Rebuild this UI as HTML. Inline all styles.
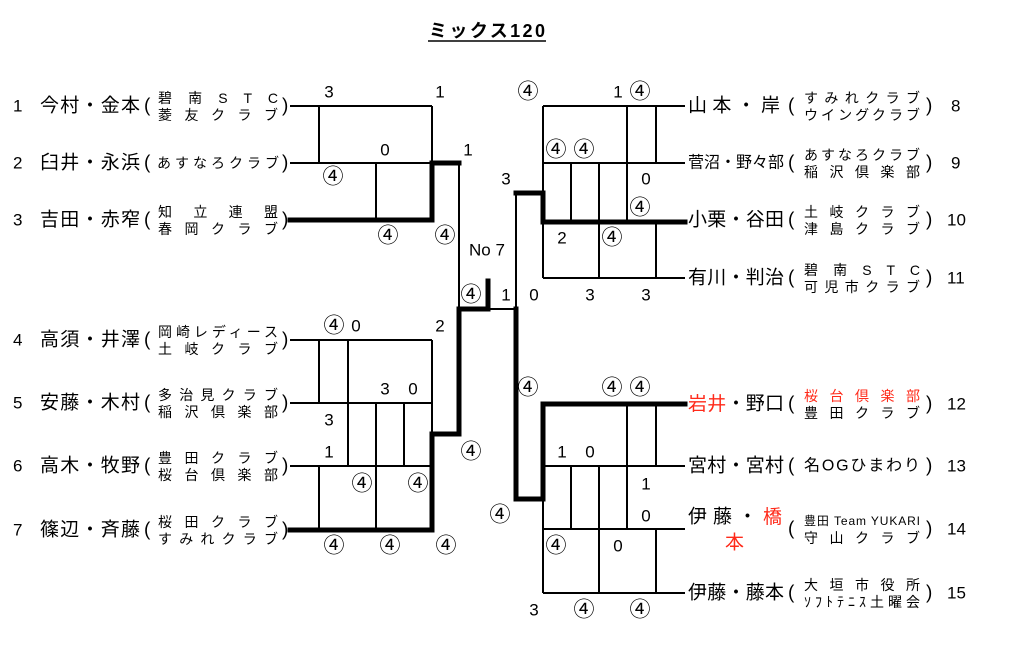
<!DOCTYPE html>
<html><head><meta charset="utf-8"><style>
html,body{margin:0;padding:0;background:#fff;}
svg{display:block;font-family:"Liberation Sans","Noto Sans CJK JP",sans-serif;}
.c{font-size:21px;}
</style></head><body>
<svg width="1024" height="645" viewBox="0 0 1024 645" xmlns="http://www.w3.org/2000/svg">
<rect width="1024" height="645" fill="#fff"/>
<text x="429" y="37" font-size="18" font-weight="bold" textLength="116">ミックス120</text>
<line x1="428" y1="41" x2="546" y2="41" stroke="#000" stroke-width="1.5"/>
<g stroke="#000" stroke-width="2" fill="none">
<line x1="290" y1="106" x2="432" y2="106"/>
<line x1="290" y1="163" x2="432" y2="163"/>
<line x1="319" y1="106" x2="319" y2="163"/>
<line x1="432" y1="106" x2="432" y2="163"/>
<line x1="376" y1="163" x2="376" y2="220"/>
<line x1="459" y1="163" x2="459" y2="309"/>
<line x1="290" y1="340" x2="432" y2="340"/>
<line x1="290" y1="403" x2="432" y2="403"/>
<line x1="290" y1="466" x2="432" y2="466"/>
<line x1="319" y1="340" x2="319" y2="403"/>
<line x1="348" y1="340" x2="348" y2="466"/>
<line x1="376" y1="403" x2="376" y2="530"/>
<line x1="404" y1="403" x2="404" y2="466"/>
<line x1="319" y1="466" x2="319" y2="530"/>
<line x1="432" y1="340" x2="432" y2="434"/>
<line x1="488" y1="309" x2="516" y2="309"/>
<line x1="516" y1="193" x2="516" y2="309"/>
<line x1="543" y1="106" x2="685" y2="106"/>
<line x1="543" y1="163" x2="685" y2="163"/>
<line x1="543" y1="278" x2="685" y2="278"/>
<line x1="543" y1="106" x2="543" y2="193"/>
<line x1="543" y1="222" x2="543" y2="278"/>
<line x1="627" y1="106" x2="627" y2="222"/>
<line x1="656" y1="106" x2="656" y2="163"/>
<line x1="571" y1="163" x2="571" y2="222"/>
<line x1="599" y1="163" x2="599" y2="278"/>
<line x1="656" y1="222" x2="656" y2="278"/>
<line x1="543" y1="466" x2="685" y2="466"/>
<line x1="543" y1="529" x2="685" y2="529"/>
<line x1="543" y1="593" x2="685" y2="593"/>
<line x1="543" y1="499" x2="543" y2="593"/>
<line x1="627" y1="404" x2="627" y2="529"/>
<line x1="656" y1="404" x2="656" y2="466"/>
<line x1="571" y1="466" x2="571" y2="529"/>
<line x1="599" y1="466" x2="599" y2="593"/>
<line x1="656" y1="529" x2="656" y2="593"/>
</g>
<g stroke="#000" stroke-width="5" fill="none" stroke-linecap="square">
<polyline points="290,220 432,220 432,163 459,163"/>
<polyline points="290,530 432,530 432,434 459,434 459,309 488,309 488,281"/>
<polyline points="516,309 516,499 543,499 543,404 685,404"/>
<polyline points="516,193 543,193 543,222 685,222"/>
</g>
<g font-size="17" text-anchor="middle" dominant-baseline="central">
<text x="329" y="92">3</text><text x="440" y="92">1</text><text x="385" y="150">0</text>
<text class="c" x="333" y="177">④</text><text x="468" y="150">1</text><text class="c" x="388" y="236">④</text>
<text class="c" x="445" y="236">④</text><text x="487" y="250">No 7</text><text class="c" x="471" y="295">④</text>
<text x="506" y="295">1</text><text x="534" y="295">0</text>
<text class="c" x="528" y="92">④</text><text x="618" y="92">1</text><text class="c" x="640" y="92">④</text>
<text class="c" x="556" y="150">④</text><text class="c" x="584" y="150">④</text><text x="506" y="179">3</text>
<text x="646" y="179">0</text><text class="c" x="640" y="208">④</text><text x="562" y="238">2</text>
<text class="c" x="612" y="238">④</text><text x="590" y="295">3</text><text x="646" y="295">3</text>
<text class="c" x="334" y="326">④</text><text x="356" y="326">0</text><text x="440" y="326">2</text>
<text x="385" y="389">3</text><text x="413" y="389">0</text><text x="329" y="420">3</text>
<text x="329" y="452">1</text><text class="c" x="362" y="484">④</text><text class="c" x="418" y="484">④</text>
<text class="c" x="471" y="452">④</text><text class="c" x="334" y="546">④</text><text class="c" x="390" y="546">④</text>
<text class="c" x="446" y="546">④</text>
<text class="c" x="528" y="388">④</text><text class="c" x="612" y="388">④</text><text class="c" x="640" y="388">④</text>
<text x="562" y="452">1</text><text x="590" y="452">0</text><text x="646" y="484">1</text>
<text x="646" y="516">0</text><text class="c" x="500" y="515">④</text><text class="c" x="556" y="546">④</text>
<text x="618" y="546">0</text><text x="534" y="610">3</text><text class="c" x="584" y="610">④</text>
<text class="c" x="640" y="610">④</text>
</g>
<g dominant-baseline="central">
<g font-size="17"><text x="13" y="106">1</text><text x="13" y="163">2</text><text x="13" y="220">3</text><text x="13" y="340">4</text><text x="13" y="403">5</text><text x="13" y="466">6</text><text x="13" y="530">7</text></g>
<g font-size="19">
<text x="40" y="106" textLength="100">今村・金本</text>
<text x="40" y="163" textLength="100">臼井・永浜</text>
<text x="40" y="220" textLength="100">吉田・赤窄</text>
<text x="40" y="340" textLength="100">高須・井澤</text>
<text x="40" y="403" textLength="100">安藤・木村</text>
<text x="40" y="466" textLength="100">高木・牧野</text>
<text x="40" y="530" textLength="100">篠辺・斉藤</text>
</g>
<g font-size="19">
<text x="144" y="106">(</text><text x="282" y="106">)</text>
<text x="144" y="163">(</text><text x="282" y="163">)</text>
<text x="144" y="220">(</text><text x="282" y="220">)</text>
<text x="144" y="340">(</text><text x="282" y="340">)</text>
<text x="144" y="403">(</text><text x="282" y="403">)</text>
<text x="144" y="466">(</text><text x="282" y="466">)</text>
<text x="144" y="530">(</text><text x="282" y="530">)</text>
</g>
<g font-size="14">
<text x="158" y="98" textLength="120">碧 南 S T C</text><text x="158" y="115" textLength="120">菱 友 ク ラ ブ</text>
<text x="157" y="163" textLength="122">あすなろクラブ</text>
<text x="158" y="212" textLength="120">知 立 連 盟</text><text x="158" y="229" textLength="120">春 岡 ク ラ ブ</text>
<text x="158" y="332" textLength="120">岡崎レディース</text><text x="158" y="349" textLength="120">土 岐 ク ラ ブ</text>
<text x="158" y="395" textLength="120">多 治 見 ク ラ ブ</text><text x="158" y="412" textLength="120">稲 沢 倶 楽 部</text>
<text x="158" y="458" textLength="120">豊 田 ク ラ ブ</text><text x="158" y="475" textLength="120">桜 台 倶 楽 部</text>
<text x="158" y="522" textLength="120">桜 田 ク ラ ブ</text><text x="158" y="539" textLength="120">す み れ ク ラ ブ</text>
</g>
</g>
<g dominant-baseline="central">
<g font-size="19">
<text x="688" y="106" textLength="92">山 本 ・ 岸</text>
<text x="688" y="163" textLength="96" font-size="16">菅沼・野々部</text>
<text x="688" y="220" textLength="96">小栗・谷田</text>
<text x="688" y="278" textLength="96">有川・判治</text>
<text x="688" y="404" textLength="96"><tspan fill="#ff2a1a">岩井</tspan>・野口</text>
<text x="688" y="466" textLength="96">宮村・宮村</text>
<text x="688" y="517" textLength="94">伊 藤 ・ <tspan fill="#ff2a1a">橋</tspan></text>
<text x="725" y="543" fill="#ff2a1a">本</text>
<text x="688" y="593" textLength="96">伊藤・藤本</text>
</g>
<g font-size="19">
<text x="788" y="106">(</text><text x="926" y="106">)</text>
<text x="788" y="163">(</text><text x="926" y="163">)</text>
<text x="788" y="220">(</text><text x="926" y="220">)</text>
<text x="788" y="278">(</text><text x="926" y="278">)</text>
<text x="788" y="404">(</text><text x="926" y="404">)</text>
<text x="788" y="466">(</text><text x="926" y="466">)</text>
<text x="788" y="529">(</text><text x="926" y="529">)</text>
<text x="788" y="593">(</text><text x="926" y="593">)</text>
</g>
<g font-size="14">
<text x="804" y="98" textLength="116">すみれクラブ</text><text x="804" y="115" textLength="116">ウイングクラブ</text>
<text x="804" y="155" textLength="116">あすなろクラブ</text><text x="804" y="172" textLength="116">稲 沢 倶 楽 部</text>
<text x="804" y="212" textLength="116">土 岐 ク ラ ブ</text><text x="804" y="229" textLength="116">津 島 ク ラ ブ</text>
<text x="804" y="270" textLength="116">碧 南 S T C</text><text x="804" y="287" textLength="116">可 児 市 ク ラ ブ</text>
<text x="804" y="396" textLength="116" fill="#ff2a1a">桜 台 倶 楽 部</text><text x="804" y="413" textLength="116">豊 田 ク ラ ブ</text>
<text x="804" y="466" textLength="116" font-size="16">名OGひまわり</text>
<text x="804" y="521" textLength="116" font-size="12">豊田 Team YUKARI</text><text x="804" y="538" textLength="116">守 山 ク ラ ブ</text>
<text x="804" y="585" textLength="116">大 垣 市 役 所</text><text x="804" y="602" textLength="116">ｿﾌﾄﾃﾆｽ土曜会</text>
</g>
<g font-size="17">
<text x="951" y="106">8</text><text x="951" y="163">9</text><text x="947" y="220">10</text><text x="947" y="278">11</text>
<text x="947" y="404">12</text><text x="947" y="466">13</text><text x="947" y="529">14</text><text x="947" y="593">15</text>
</g>
</g>
</svg>
</body></html>
